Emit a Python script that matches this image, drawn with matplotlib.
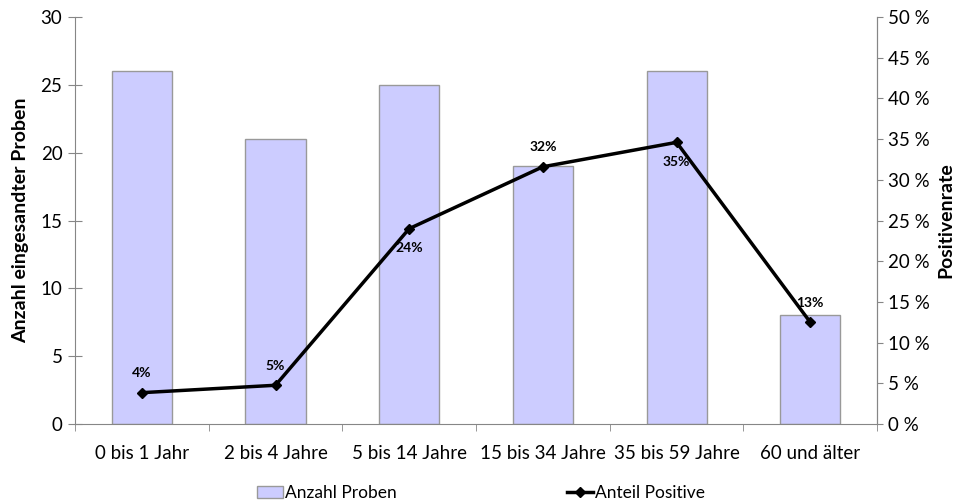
import numpy as np
from matplotlib import pyplot as plt
from matplotlib.lines import Line2D
from matplotlib.patches import Patch
from matplotlib.ticker import FuncFormatter

plt.rcParams['font.family'] = ['Lato', 'DejaVu Sans']

categories = ['0 bis 1 Jahr', '2 bis 4 Jahre', '5 bis 14 Jahre', '15 bis 34 Jahre', '35 bis 59 Jahre', '60 und älter']
anzahl_proben = [26, 21, 25, 19, 26, 8]
anteil_positive = [0.0385, 0.0476, 0.24, 0.316, 0.346, 0.125]
point_labels = ['4%', '5%', '24%', '32%', '35%', '13%']
# label above (+) or below (-) the point
label_side = [1, 1, -1, 1, -1, 1]

axis_grey = '#868686'

fig = plt.figure(figsize=(9.66, 5.04), dpi=100)
ax = fig.add_axes([0.0776, 0.1587, 0.8304, 0.8076])
x = np.arange(len(categories))

ax.bar(x, anzahl_proben, width=0.45, color='#ccccff', edgecolor='#999999', linewidth=1.0, zorder=2)
ax.set_xlim(-0.5, len(categories) - 0.5)
ax.set_ylim(0, 30)
ax.set_yticks(range(0, 31, 5))
ax.set_xticks(x)
ax.set_xticklabels(categories, fontsize=13.5)
ax.set_xticks(np.arange(-0.5, len(categories), 1), minor=True)
ax.tick_params(axis='x', which='major', length=0, pad=15)
ax.tick_params(axis='x', which='minor', length=5, direction='out', color=axis_grey)
ax.tick_params(axis='y', direction='inout', length=10, color=axis_grey, labelsize=13.5, pad=4)
ax.set_ylabel('Anzahl eingesandter Proben', fontsize=14, fontweight='bold', labelpad=8)
for side in ['left', 'bottom', 'right']:
    ax.spines[side].set_color(axis_grey)
ax.spines['top'].set_visible(False)

ax2 = ax.twinx()
ax2.plot(x, anteil_positive, color='black', linewidth=2.5, marker='D', markersize=5.5, zorder=3)
ax2.set_ylim(0, 0.5)
ax2.set_yticks(np.arange(0, 0.51, 0.05))
ax2.yaxis.set_major_formatter(FuncFormatter(lambda v, p: '%d %%' % round(v * 100)))
ax2.tick_params(axis='y', direction='out', length=4.5, color=axis_grey, labelsize=13.5, pad=3)
ax2.set_ylabel('Positivenrate', fontsize=14, fontweight='bold', labelpad=6)
ax2.spines['top'].set_visible(False)
ax2.spines['right'].set_color(axis_grey)
ax2.spines['left'].set_visible(False)
ax2.spines['bottom'].set_visible(False)

for xi, yi, lab, s in zip(x, anteil_positive, point_labels, label_side):
    ax2.annotate(lab, (xi, yi), xytext=(0, 14 * s), textcoords='offset points',
                 ha='center', va='center', fontsize=10, fontweight='bold')

handles = [Patch(facecolor='#ccccff', edgecolor='#999999', label='Anzahl Proben'),
           Line2D([0], [0], color='black', linewidth=2.5, marker='D', markersize=5, label='Anteil Positive')]
fig.legend(handles=handles, loc='lower center', bbox_to_anchor=(0.498, -0.025), ncol=2, frameon=False,
           fontsize=12.5, columnspacing=9.8, handlelength=1.5, handletextpad=0.1)

plt.savefig('out.png', dpi=100)
